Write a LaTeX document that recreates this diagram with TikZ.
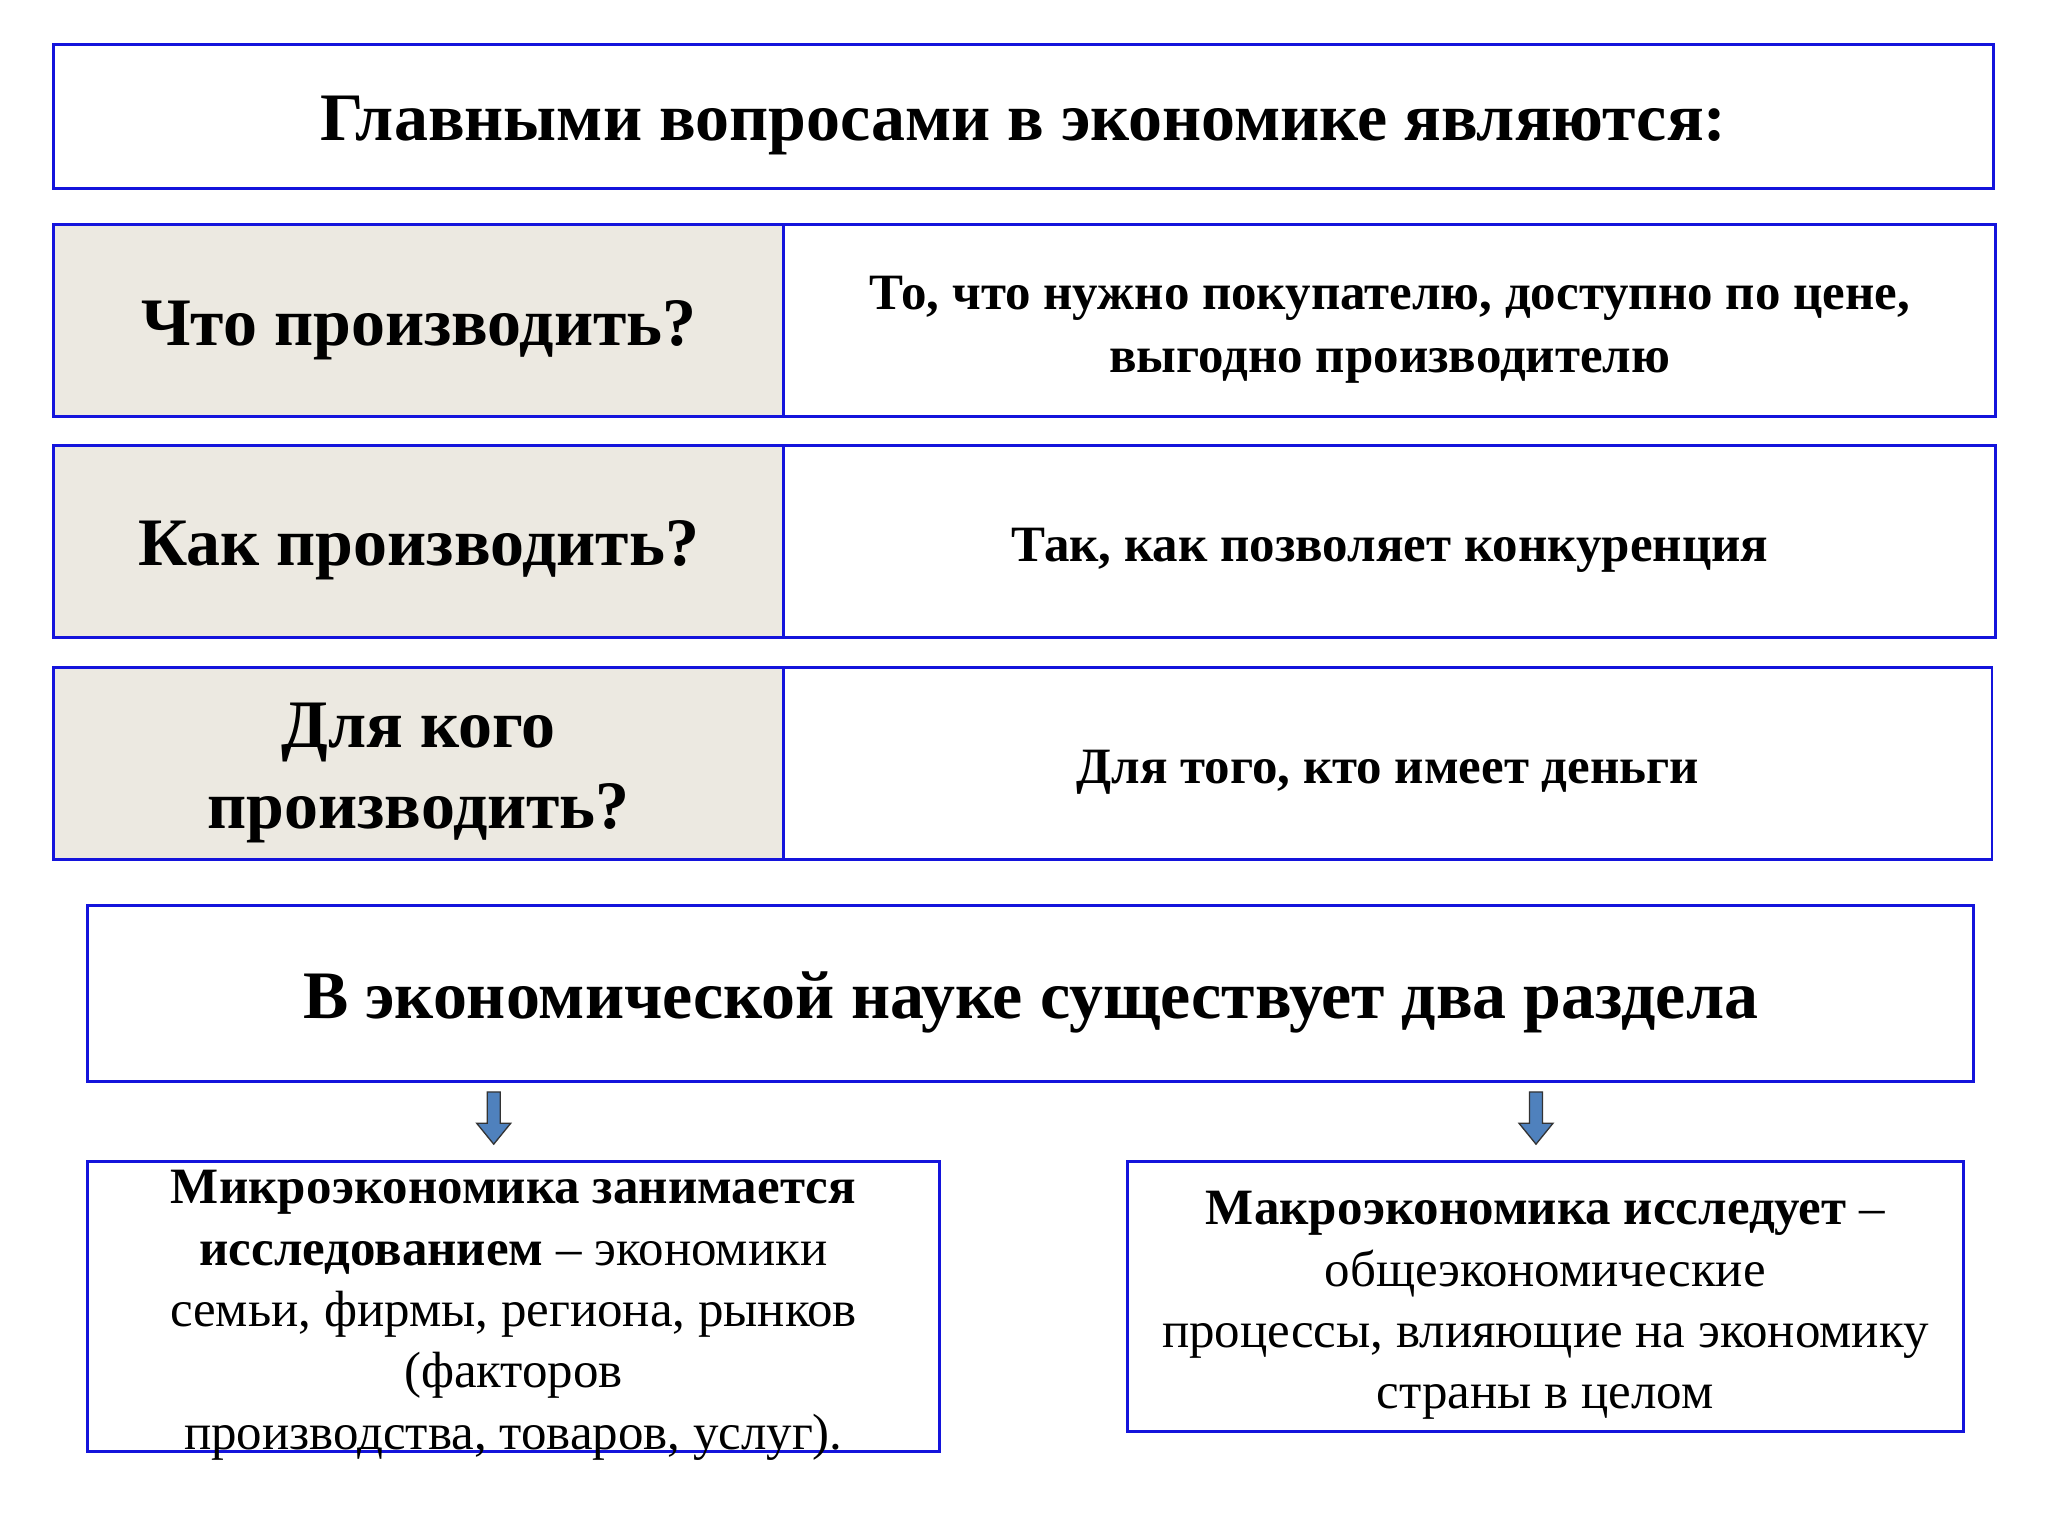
\documentclass[tikz,border=0pt]{standalone}
\usepackage{fontspec}
\setmainfont{Liberation Serif}
\definecolor{bl}{RGB}{20,20,220}
\definecolor{beige}{RGB}{236,233,225}
\definecolor{arr}{RGB}{79,129,189}
\begin{document}
\begin{tikzpicture}[x=1pt,y=-1pt,
 box/.style={draw=bl,line width=2.2pt,anchor=north west,inner sep=0pt},
 qbox/.style={box,fill=beige},
 txt/.style={align=center,inner sep=0pt,yshift=-7pt},
 qf/.style={txt,font=\fontsize{52}{62}\selectfont\bfseries},
 af/.style={txt,font=\fontsize{39}{48}\selectfont\bfseries},
 darr/.style={draw=black!80,fill=arr,line width=1pt}]
\useasboundingbox (0,0) rectangle (1568,1176);
\fill[white] (0,0) rectangle (1568,1176);
\node[box,minimum width=1485pt,minimum height=110pt] (top) at (40,33) {};
\node[qf] (topt) at (top.center) {Главными вопросами в экономике являются:};
\node[qbox,minimum width=559pt,minimum height=147pt] (q1) at (40,171) {};
\node[qf] (q1t) at (q1.center) {Что производить?};
\node[box,minimum width=928pt,minimum height=147pt] (a1) at (599,171) {};
\node[af] (a1t) at (a1.center) {То, что нужно покупателю, доступно по цене,\\выгодно производителю};
\node[qbox,minimum width=559pt,minimum height=147pt] (q2) at (40,340) {};
\node[qf] (q2t) at (q2.center) {Как производить?};
\node[box,minimum width=928pt,minimum height=147pt] (a2) at (599,340) {};
\node[af] (a2t) at (a2.center) {Так, как позволяет конкуренция};
\node[qbox,minimum width=559pt,minimum height=147pt] (q3) at (40,510) {};
\node[qf] (q3t) at (q3.center) {Для кого\\производить?};
\node[box,minimum width=925pt,minimum height=147pt] (a3) at (599,510) {};
\node[af] (a3t) at (a3.center) {Для того, кто имеет деньги};
\node[box,minimum width=1444pt,minimum height=135pt] (sec) at (66,692) {};
\node[qf] (sect) at (sec.center) {В экономической науке существует два раздела};
\node[box,minimum width=652pt,minimum height=222pt] (mic) at (66,888) {};
\node[txt,font=\fontsize{39}{47}\selectfont] (mict) at (mic.center) {\textbf{Микроэкономика занимается}\\\textbf{исследованием} – экономики\\семьи, фирмы, региона, рынков\\(факторов\\производства, товаров, услуг).};
\node[box,minimum width=640pt,minimum height=207pt] (mac) at (862,888) {};
\node[txt,font=\fontsize{39}{47}\selectfont] (mact) at (mac.center) {\textbf{Макроэкономика исследует} –\\общеэкономические\\процессы, влияющие на экономику\\страны в целом};
\coordinate (c1) at (378,836);
\coordinate (c2) at (1176,836);
\foreach \c in {c1,c2}{
 \draw[darr] (\c) ++(-5,0) -- ++(10,0) -- ++(0,24) -- ++(8,0) -- ++(-13,16) -- ++(-13,-16) -- ++(8,0) -- cycle;
}
\end{tikzpicture}
\end{document}
